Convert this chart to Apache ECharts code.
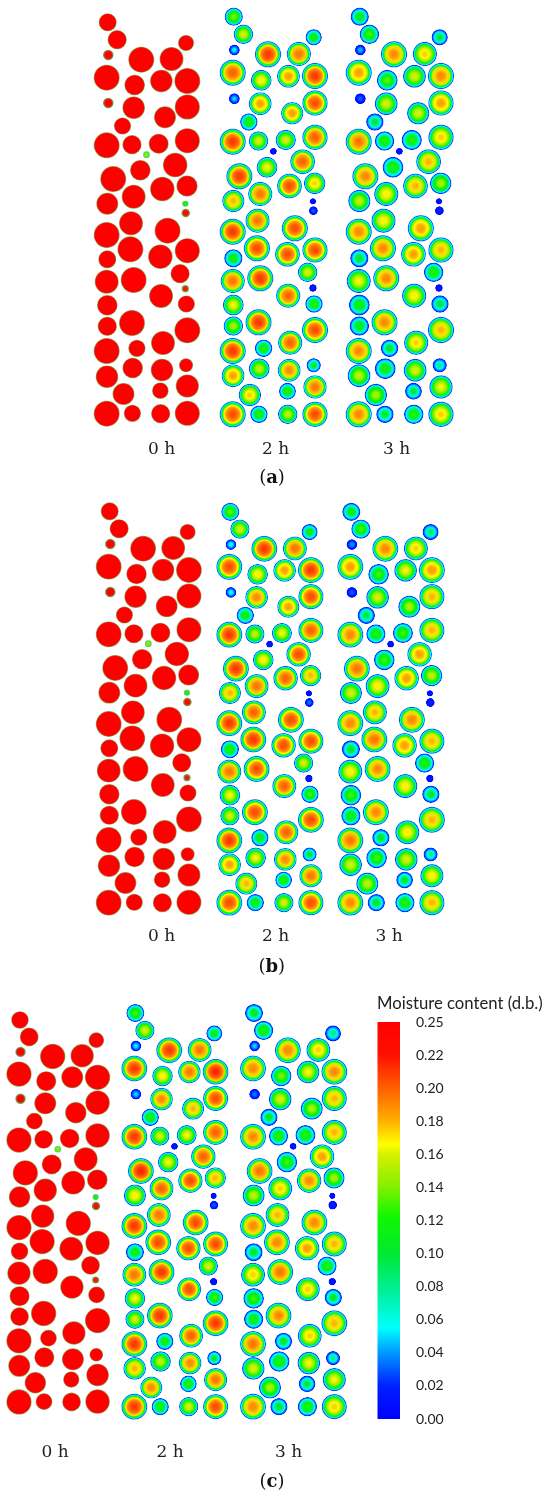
<!DOCTYPE html>
<html>
<head>
<meta charset="utf-8">
<title>Moisture content</title>
<script src="https://cdn.jsdelivr.net/npm/echarts@6/dist/echarts.min.js"></script>
<style>
  html, body { margin: 0; padding: 0; background: #fff; }
  #main { width: 550px; height: 1502px; }
</style>
</head>
<body>
<div id="main"></div>
<script>
// particle bed
const bedX = [17.7,27.3,18.3,97,51.7,82.3,16.7,45,72,98.3,18.3,44,98.3,75.7,32.7,16.7,42.3,69.3,98.3,57,86,50.7,23.3,73,98,44,17.3,96.3,96.7,78.3,41.3,16.7,40.7,71,98.3,17.3,91,16.7,44,71.7,96.3,17.3,97.3,17.3,42.3,98.3,16.7,47.3,73.7,43,72.7,97,17,33.7,71,98.3,16.7,42.7,71.3,98.3];
const bedY0h = [22.3,39.7,55,43,59.7,59,77.7,85,81,81,103,107.7,107,117.3,126,145.3,144.7,143.7,140.7,154.7,165,170.3,179,189,186,196.7,203.7,203.7,213,230.7,223.3,235,249.3,256.7,250.7,259.3,273.7,281.7,280,296,288.7,305.3,304,326.3,323,330.3,351,348.3,343,368,370,365.3,376.7,394,390.7,386,413.7,413.3,413.7,413.3];
const bedYDried = [16.7,34.3,50,37.3,54.3,54,72.7,80.3,76.3,76,98.7,103.7,103,113.3,122,141.7,141,140,137.3,151.3,161.7,167.3,176.3,186,183.3,194,201,201.3,210.7,228.3,220.7,231.7,248.3,254.3,250,258.3,272.3,281,278.3,295.7,288,305,304,326,322.3,330,351,348.3,342.7,368.7,370.3,365.3,375.7,395,391.3,387,414.3,414.3,414.3,414.3];
const radius = [8.7,9.3,5,7.7,12.7,11.7,12.7,10,11,12.7,5,11,12.3,10.7,8.3,12.7,9.3,9.7,12.3,3,12,10,12.7,12,10.3,11.7,10.7,2.7,4,12.7,11.7,12.7,12.7,12,12.3,8.7,9.3,11.7,12.7,11.7,3.3,10,8.3,9.3,12.7,12.7,12.7,8.3,11.7,10,11,6.7,11,10.7,8,11.3,12.7,8.3,9.3,12.3];

// centre moisture of every particle, per panel and time
const centre0h = [.25,.25,.24,.25,.25,.25,.25,.25,.25,.25,.24,.25,.25,.25,.25,.25,.25,.25,.25,.14,.25,.25,.25,.25,.25,.25,.25,.12,.23,.25,.25,.25,.25,.25,.25,.25,.25,.25,.25,.25,.22,.25,.25,.25,.25,.25,.25,.25,.25,.25,.25,.25,.25,.25,.25,.25,.25,.25,.25,.25];
const centreA2h = [.14,.16,.055,.12,.21,.195,.2,.17,.185,.21,.05,.185,.205,.185,.125,.21,.16,.16,.2,.015,.2,.165,.21,.205,.175,.195,.18,.01,.03,.205,.195,.21,.205,.205,.205,.12,.16,.195,.21,.2,.015,.165,.125,.15,.21,.205,.21,.125,.2,.155,.19,.105,.185,.175,.125,.195,.205,.125,.155,.205];
const centreA3h = [.115,.13,.045,.1,.19,.175,.185,.135,.16,.19,.03,.16,.185,.16,.1,.195,.125,.125,.175,.015,.18,.125,.19,.18,.15,.17,.155,.01,.02,.185,.17,.19,.19,.185,.18,.105,.125,.165,.19,.17,.015,.12,.1,.115,.19,.18,.19,.105,.175,.12,.16,.08,.155,.15,.1,.165,.19,.105,.125,.175];
const centreB2h = [.135,.16,.06,.115,.21,.195,.205,.17,.185,.21,.06,.19,.205,.185,.12,.21,.155,.165,.2,.015,.205,.17,.21,.2,.18,.195,.18,.01,.035,.205,.2,.21,.21,.205,.205,.125,.16,.195,.205,.2,.02,.165,.13,.16,.205,.205,.21,.12,.2,.165,.19,.105,.185,.18,.125,.195,.205,.12,.16,.205];
const centreB3h = [.115,.13,.04,.09,.19,.175,.185,.13,.165,.185,.03,.16,.18,.15,.1,.19,.125,.13,.18,.015,.185,.13,.195,.185,.155,.17,.16,.01,.02,.19,.18,.19,.195,.185,.18,.105,.125,.17,.19,.17,.015,.13,.105,.12,.19,.18,.195,.105,.17,.13,.16,.08,.16,.155,.105,.17,.19,.105,.125,.18];
const centreC2h = [.13,.16,.055,.115,.21,.195,.21,.17,.195,.215,.05,.19,.205,.18,.125,.21,.16,.165,.2,.015,.2,.165,.215,.205,.18,.2,.17,.01,.03,.205,.195,.21,.205,.205,.205,.12,.16,.195,.21,.205,.015,.165,.13,.16,.21,.21,.21,.12,.2,.155,.19,.105,.18,.19,.125,.195,.21,.125,.16,.205];
const centreC3h = [.11,.125,.05,.085,.19,.175,.19,.14,.165,.19,.035,.16,.18,.15,.105,.19,.125,.125,.18,.015,.185,.13,.195,.19,.15,.175,.155,.01,.02,.19,.18,.19,.19,.185,.18,.105,.125,.175,.195,.175,.015,.13,.105,.12,.19,.18,.195,.105,.175,.125,.165,.08,.16,.15,.1,.165,.19,.105,.125,.175];

// colour bar
const tickLabels = ['0.00','0.02','0.04','0.06','0.08','0.10','0.12','0.14','0.16','0.18','0.20','0.22','0.25'];
const scaleMoisture = [0,.02,.04,.055,.076,.10,.122,.14,.16,.166,.18,.20,.22,.24];
const scaleColors = ['#0000ff','#0020ff','#0098ff','#00ffff','#00f0a0','#00e830','#10f800','#80f000','#d8f000','#ffff00','#ffb000','#ff6000','#ff1000','#ff0000'];

function hexToRgb(h) {
  return [parseInt(h.slice(1,3),16), parseInt(h.slice(3,5),16), parseInt(h.slice(5,7),16)];
}

function moistureColor(m) {
  if (m <= 0) return scaleColors[0];
  for (let i = 1; i < scaleMoisture.length; i++) {
    if (m <= scaleMoisture[i]) {
      let t = (m - scaleMoisture[i-1]) / (scaleMoisture[i] - scaleMoisture[i-1]);
      let a = hexToRgb(scaleColors[i-1]), b = hexToRgb(scaleColors[i]);
      return 'rgb(' + a.map((v,k) => Math.round(v + (b[k]-v)*t)).join(',') + ')';
    }
  }
  return scaleColors[scaleColors.length-1];
}

// dried particles: share of the centre value left at each radius fraction.
// wet cores stay flat for longer, nearly dry particles are more peaked
const profileRadius = [0,.2,.33,.5,.67,.78,.84,.89,.95];
const profileWet = [1,.99,.96,.91,.81,.6,.43,.3,.15];
const profileDry = [1,.97,.9,.72,.52,.4,.31,.24,.13];
function driedFill(mc) {
  let t = Math.min(1, Math.max(0, (mc - .11) / .08));
  let stops = profileRadius.map((p, i) => ({
    offset: p,
    color: moistureColor(mc * (profileDry[i] + (profileWet[i] - profileDry[i]) * t))
  }));
  // the picture is soft at the surface, the blue ring fades into the white
  stops.push({ offset: 1, color: 'rgba(50,100,255,0.5)' });
  return { type: 'radial', x: .5, y: .5, r: .5, colorStops: stops };
}

// 0 h particles: solid core, about a pixel of edge, more on the small ones
function freshFill(mc, px) {
  let small = px < 6;
  let core = Math.max(0, 1 - (small ? 2 : 1.2) / px);
  return {
    type: 'radial', x: .5, y: .5, r: .5,
    colorStops: [
      { offset: 0, color: moistureColor(mc) },
      { offset: core, color: moistureColor(mc) },
      { offset: 1, color: small ? 'rgba(60,200,90,0.9)' : 'rgba(110,170,80,0.85)' }
    ]
  };
}

function renderParticle(params, api) {
  let c = api.coord([api.value(0), api.value(1)]);
  let r = api.size([api.value(2), 0])[0] + 0.4;
  let mc = api.value(3);
  return {
    type: 'circle',
    shape: { cx: c[0], cy: c[1], r: r },
    style: { fill: params.seriesId.indexOf('fresh') >= 0 ? freshFill(mc, r) : driedFill(mc) }
  };
}

const columns = [
  { id: 'fresh-a', left: 90.2,  top: 0,      sx: .988, sy: 1,    ys: bedY0h,    vals: centre0h },
  { id: 'dried-a2', left: 215.9, top: 0,     sx: 1.008, sy: 1,   ys: bedYDried, vals: centreA2h },
  { id: 'dried-a3', left: 341.9, top: 0,     sx: 1.008, sy: 1,   ys: bedYDried, vals: centreA3h },
  { id: 'fresh-b', left: 92.3,  top: 489,    sx: .983, sy: 1,    ys: bedY0h,    vals: centre0h },
  { id: 'dried-b2', left: 212.6, top: 495.4, sx: 1,    sy: .983, ys: bedYDried, vals: centreB2h },
  { id: 'dried-b3', left: 333.6, top: 495.4, sx: 1,    sy: .983, ys: bedYDried, vals: centreB3h },
  { id: 'fresh-c', left: 2.9,   top: 998.2,  sx: .963, sy: .976, ys: bedY0h,    vals: centre0h },
  { id: 'dried-c2', left: 117.7, top: 996.5, sx: .996, sy: .99,  ys: bedYDried, vals: centreC2h },
  { id: 'dried-c3', left: 236.4, top: 996.5, sx: .996, sy: .99,  ys: bedYDried, vals: centreC3h }
];

const grids = [], xAxes = [], yAxes = [], series = [];
columns.forEach((col, i) => {
  grids.push({ left: col.left, top: col.top, width: 110 * col.sx, height: 420 * col.sy });
  xAxes.push({ gridIndex: i, type: 'value', min: 0, max: 110, show: false });
  yAxes.push({ gridIndex: i, type: 'value', min: 0, max: 420, inverse: true, show: false });
  series.push({
    id: col.id,
    type: 'custom',
    xAxisIndex: i,
    yAxisIndex: i,
    silent: true,
    animation: false,
    renderItem: renderParticle,
    data: bedX.map((x, k) => [x, col.ys[k], radius[k], col.vals[k]])
  });
});

// colour bar as one bar on an index axis, tick labels are not evenly valued at the top
const barIndex = columns.length;
grids.push({ left: 377.5, top: 1022, width: 22.5, height: 397 });
xAxes.push({ gridIndex: barIndex, type: 'category', data: ['m'], show: false });
yAxes.push({
  gridIndex: barIndex, type: 'value', min: 0, max: 12, interval: 1,
  axisLine: { show: false }, axisTick: { show: false }, splitLine: { show: false },
  position: 'right',
  axisLabel: {
    margin: 16, color: '#222', fontFamily: 'Lato', fontSize: 14,
    formatter: v => tickLabels[v]
  }
});
series.push({
  type: 'bar', xAxisIndex: barIndex, yAxisIndex: barIndex,
  data: [12], barWidth: '100%', silent: true, animation: false,
  itemStyle: {
    color: {
      type: 'linear', x: 0, y: 1, x2: 0, y2: 0,
      colorStops: scaleMoisture.map((m, i) => ({ offset: m / .24, color: scaleColors[i] }))
    }
  }
});

function serifText(t, x, y) {
  return {
    type: 'text', x: x, y: y,
    style: { text: t, fill: '#222', font: '17px "DejaVu Serif"', textAlign: 'center', textVerticalAlign: 'middle' }
  };
}

function panelLetter(letter, x, y) {
  return {
    type: 'text', x: x, y: y,
    style: {
      text: '(' + '{b|' + letter + '}' + ')',
      fill: '#111', font: '18px "DejaVu Serif"', textAlign: 'center', textVerticalAlign: 'middle',
      rich: { b: { font: 'bold 18px "DejaVu Serif"', fill: '#111' } }
    }
  };
}

const texts = [
  serifText('0 h', 161.7, 450), serifText('2 h', 275.7, 450), serifText('3 h', 396.7, 450),
  panelLetter('a', 272, 478),
  serifText('0 h', 161.7, 937), serifText('2 h', 275.7, 937), serifText('3 h', 389, 937),
  panelLetter('b', 271.7, 967),
  serifText('0 h', 55, 1452.7), serifText('2 h', 170, 1452.7), serifText('3 h', 288.7, 1452.7),
  panelLetter('c', 272, 1482),
  {
    type: 'text', x: 377, y: 1004,
    style: { text: 'Moisture content (d.b.)', fill: '#222', font: '16.7px Lato', textVerticalAlign: 'middle' }
  }
];

let myChart = echarts.init(document.getElementById('main'), null, { renderer: 'canvas' });
myChart.setOption({
  animation: false,
  backgroundColor: '#fff',
  grid: grids,
  xAxis: xAxes,
  yAxis: yAxes,
  series: series,
  graphic: texts
});
</script>
</body>
</html>
